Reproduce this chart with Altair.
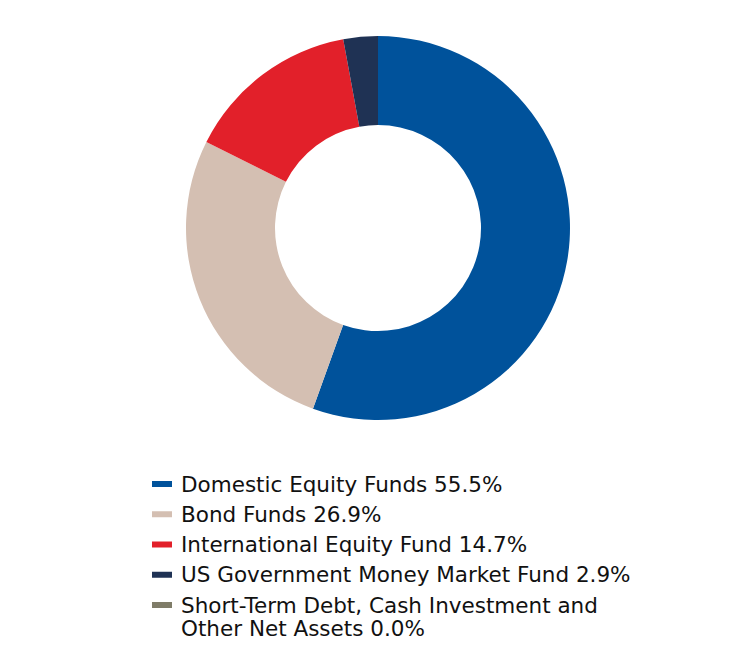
import altair as alt
import pandas as pd

categories = [
    "Domestic Equity Funds",
    "Bond Funds",
    "International Equity Fund",
    "US Government Money Market Fund",
    "Short-Term Debt, Cash Investment and|Other Net Assets",
]
values = [55.5, 26.9, 14.7, 2.9, 0.0]
colors = ["#00529B", "#D4BFB2", "#E2202A", "#1F3254", "#7F7C68"]

labels = [f"{c} {v:.1f}%" for c, v in zip(categories, values)]
df = pd.DataFrame({
    "category": categories,
    "value": values,
    "order": list(range(len(categories))),
    "label": labels,
})

color_scale = alt.Scale(domain=categories, range=colors)

arc = alt.Chart(df).mark_arc(outerRadius=192, innerRadius=103).encode(
    theta=alt.Theta("value:Q", stack=True),
    color=alt.Color("category:N", scale=color_scale, legend=None),
    order=alt.Order("order:Q"),
    x=alt.value(370),
    y=alt.value(220),
)

yscale = alt.Scale(domain=[0, 4], range=[476, 597])

swatch = alt.Chart(df).mark_point(
    shape="M-1,-0.3H1V0.3H-1Z", size=400, filled=True, opacity=1
).encode(
    y=alt.Y("order:Q", scale=yscale, axis=None),
    x=alt.value(154),
    color=alt.Color("category:N", scale=color_scale, legend=None),
)

text = alt.Chart(df).mark_text(
    align="left", baseline="alphabetic", dy=7.5, fontSize=21.5,
    font="DejaVu Sans", lineBreak="|", lineHeight=23, color="#111111"
).encode(
    y=alt.Y("order:Q", scale=yscale, axis=None),
    x=alt.value(173),
    text="label:N",
)

chart = alt.layer(arc, swatch, text).properties(
    width=740, height=632,
    autosize=alt.AutoSizeParams(type="fit", contains="padding"),
    padding=0,
).configure_view(stroke=None)

chart.save("out.html", embed_options={"renderer": "svg", "actions": False})
